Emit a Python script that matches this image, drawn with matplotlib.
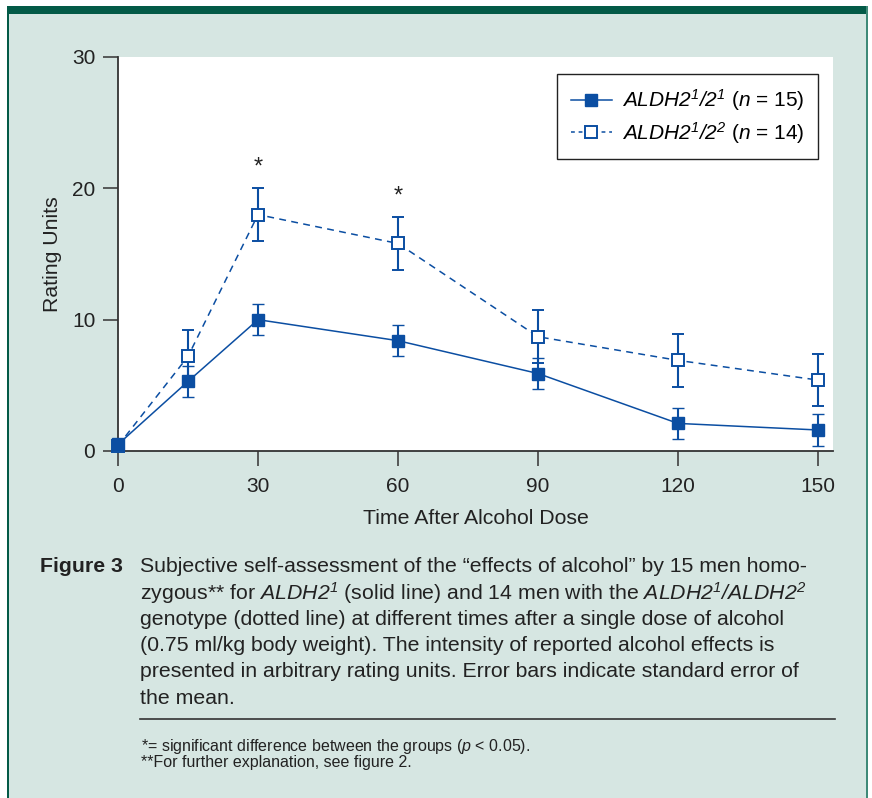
import matplotlib
matplotlib.use('Agg')
import matplotlib.pyplot as plt
from matplotlib.patches import Rectangle
from matplotlib.lines import Line2D

plt.rcParams['font.family'] = ['Liberation Sans', 'DejaVu Sans']
# math is only used for the italic gene names, so make it all italic
plt.rcParams['mathtext.fontset'] = 'custom'
plt.rcParams['mathtext.rm'] = 'Liberation Sans:italic'
plt.rcParams['mathtext.it'] = 'Liberation Sans:italic'
plt.rcParams['mathtext.bf'] = 'Liberation Sans:bold:italic'

# data
times = [0, 15, 30, 60, 90, 120, 150]
aldh_11 = [0.5, 5.3, 10.0, 8.4, 5.9, 2.1, 1.6]
aldh_11_se = [0, 1.2, 1.2, 1.2, 1.2, 1.2, 1.2]
aldh_12 = [0.4, 7.2, 18.0, 15.8, 8.7, 6.9, 5.4]
aldh_12_se = [0, 2.0, 2.0, 2.0, 2.0, 2.0, 2.0]
sig_times = [30, 60]
sig_y = [21.6, 19.4]
xticks = [0, 30, 60, 90, 120, 150]
yticks = [0, 10, 20, 30]

label_11 = r'$ALDH2^{1}/2^{1}$ ($n$ = 15)'
label_12 = r'$ALDH2^{1}/2^{2}$ ($n$ = 14)'

blue = '#0b4ea2'
bg = '#d6e6e2'
dark_green = '#035a47'
txt = '#222222'

W, H = 872, 798
fig = plt.figure(figsize=(W / 100, H / 100), dpi=100, facecolor='white')

def fx(x):
    return x / W

def fy(y):
    return 1 - y / H

# panel background and frame
fig.add_artist(Rectangle((fx(7), 0), fx(861), fy(6), transform=fig.transFigure,
                         facecolor=bg, edgecolor='none', zorder=-10))
fig.add_artist(Rectangle((fx(7), fy(14)), fx(861), 8 / H, transform=fig.transFigure,
                         facecolor=dark_green, edgecolor='none', zorder=-9))
fig.add_artist(Rectangle((fx(7), 0), fx(2), fy(6), transform=fig.transFigure,
                         facecolor=dark_green, edgecolor='none', zorder=-9))
fig.add_artist(Rectangle((fx(866), 0), fx(2), fy(6), transform=fig.transFigure,
                         facecolor='#3f8a78', edgecolor='none', zorder=-9))

ax = fig.add_axes([fx(118), fy(451), fx(715), (451 - 57) / H])
ax.set_facecolor('white')

ax.errorbar(times, aldh_12, yerr=aldh_12_se, color=blue, lw=1.1, dashes=(4.5, 3.5),
            marker='s', ms=8, mfc='white', mec=blue, mew=1.4,
            ecolor=blue, elinewidth=1.5, capsize=4.5, capthick=1.5, clip_on=False, zorder=3)
ax.errorbar(times, aldh_11, yerr=aldh_11_se, color=blue, lw=1.1,
            marker='s', ms=8.5, mfc=blue, mec=blue, mew=1,
            ecolor=blue, elinewidth=1.5, capsize=4.5, capthick=1.5, clip_on=False, zorder=4)

for t, y in zip(sig_times, sig_y):
    ax.text(t, y, '*', ha='center', va='center', fontsize=17, color=txt)

ax.set_xlim(0, 153.2)
ax.set_ylim(0, 30)
ax.set_xticks(xticks)
ax.set_yticks(yticks)
for s in ['top', 'right']:
    ax.spines[s].set_visible(False)
for s in ['left', 'bottom']:
    ax.spines[s].set_color('#333333')
    ax.spines[s].set_linewidth(1.3)
ax.tick_params(direction='out', length=10.8, width=1.1, color='#333333',
               labelsize=15, labelcolor=txt, pad=5.5)
ax.tick_params(axis='x', pad=8)
ax.set_xlabel('Time After Alcohol Dose', fontsize=15.3, color=txt, labelpad=9)
ax.set_ylabel('Rating Units', fontsize=15.3, color=txt, labelpad=7)

handles = [
    Line2D([], [], color=blue, lw=1.1, marker='s', ms=8.5, mfc=blue, mec=blue),
    Line2D([], [], color=blue, lw=1.1, dashes=(2.5, 2.5), marker='s', ms=8,
           mfc='white', mec=blue, mew=1.4),
]
leg = ax.legend(handles, [label_11, label_12], loc='upper right',
                bbox_to_anchor=(fx(818), fy(74)), bbox_transform=fig.transFigure,
                borderaxespad=0, fontsize=15, frameon=True, fancybox=False,
                edgecolor='#222222', framealpha=1, handlelength=1.95,
                handletextpad=0.5, borderpad=0.65, labelspacing=0.3)
leg.get_frame().set_linewidth(1.0)

# caption
cap_fs = 15.3
fig.text(fx(40), fy(567), 'Figure 3', fontsize=cap_fs, fontweight='bold',
         color=txt, va='center')
lines = [
    'Subjective self-assessment of the \u201ceffects of alcohol\u201d by 15 men homo-',
    r'zygous** for $ALDH2^{1}$ (solid line) and 14 men with the $ALDH2^{1}/ALDH2^{2}$',
    'genotype (dotted line) at different times after a single dose of alcohol',
    '(0.75 ml/kg body weight). The intensity of reported alcohol effects is',
    'presented in arbitrary rating units. Error bars indicate standard error of',
    'the mean.',
]
for i, line in enumerate(lines):
    fig.text(fx(140), fy(567 + 26.2 * i), line, fontsize=cap_fs, color=txt, va='center')

fig.add_artist(Line2D([fx(140), fx(835)], [fy(719), fy(719)], transform=fig.transFigure,
                      color='#333333', lw=1.2))

fig.text(fx(141), fy(746), r'*= significant difference between the groups ($p$ < 0.05).',
         fontsize=11.5, color=txt, va='center')
fig.text(fx(141), fy(763), '**For further explanation, see figure 2.',
         fontsize=11.5, color=txt, va='center')

fig.savefig('out.png', dpi=100, facecolor=fig.get_facecolor())
